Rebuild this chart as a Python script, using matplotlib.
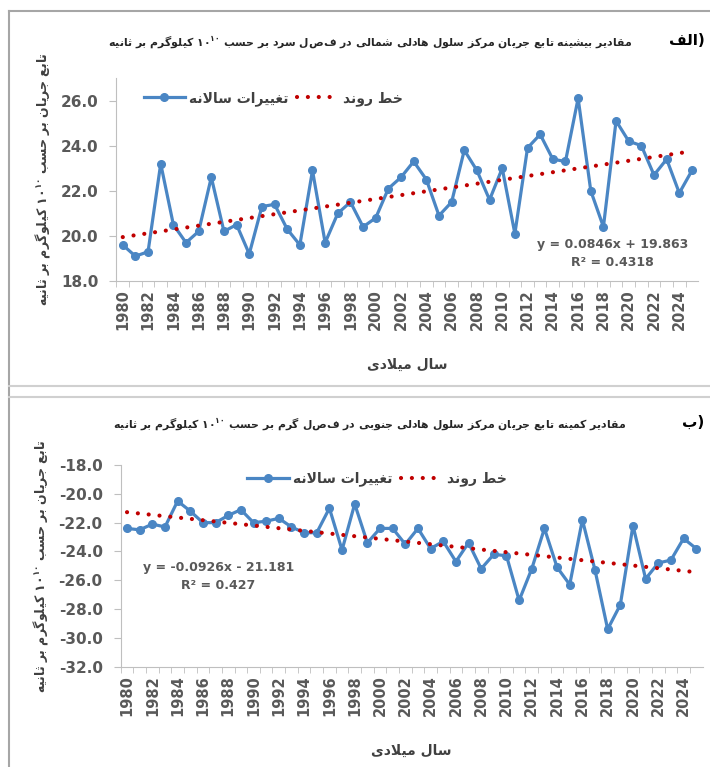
import matplotlib
matplotlib.use("Agg")
import matplotlib.pyplot as plt
from matplotlib.lines import Line2D

plt.rcParams["font.family"] = ["DejaVu Sans"]
plt.rcParams["mathtext.default"] = "bf"

years = list(range(1980, 2026))
north_max = [19.6, 19.1, 19.3, 23.2, 20.5, 19.7, 20.2, 22.6, 20.2, 20.5,
             19.2, 21.3, 21.4, 20.3, 19.6, 22.9, 19.7, 21.0, 21.5, 20.4,
             20.8, 22.1, 22.6, 23.3, 22.5, 20.9, 21.5, 23.8, 22.9, 21.6,
             23.0, 20.1, 23.9, 24.5, 23.4, 23.3, 26.1, 22.0, 20.4, 25.1,
             24.2, 24.0, 22.7, 23.4, 21.9, 22.9]
south_min = [-22.4, -22.5, -22.1, -22.3, -20.5, -21.2, -22.0, -22.0, -21.5, -21.1,
             -22.0, -21.9, -21.7, -22.3, -22.7, -22.7, -21.0, -23.9, -20.7, -23.4,
             -22.4, -22.4, -23.5, -22.4, -23.8, -23.3, -24.7, -23.4, -25.2, -24.2,
             -24.3, -27.4, -25.2, -22.4, -25.1, -26.3, -21.8, -25.3, -29.4, -27.7,
             -22.2, -25.9, -24.8, -24.6, -23.1, -23.8]
# trend equations as printed on the chart (x = 1, 2, ...)
north_trend = (0.0846, 19.863, "0.4318")
south_trend = (-0.0926, -21.181, "0.427")
north_ticks = [18, 20, 22, 24, 26]
south_ticks = [-18, -20, -22, -24, -26, -28, -30, -32]


def _f(base, n=4):
    return [chr(base + i) for i in range(n)]


# arabic presentation forms: isolated, final, initial, medial
FORMS = {
    "\u0627": _f(0xFE8D, 2), "\u0628": _f(0xFE8F), "\u062A": _f(0xFE95),
    "\u062B": _f(0xFE99), "\u062C": _f(0xFE9D), "\u062D": _f(0xFEA1),
    "\u062E": _f(0xFEA5), "\u062F": _f(0xFEA9, 2), "\u0631": _f(0xFEAD, 2),
    "\u0632": _f(0xFEAF, 2), "\u0633": _f(0xFEB1), "\u0634": _f(0xFEB5),
    "\u0637": _f(0xFEC1), "\u0639": _f(0xFEC9), "\u063A": _f(0xFECD),
    "\u0641": _f(0xFED1), "\u0642": _f(0xFED5), "\u0644": _f(0xFEDD),
    "\u0645": _f(0xFEE1), "\u0646": _f(0xFEE5), "\u0647": _f(0xFEE9),
    "\u0648": _f(0xFEED, 2), "\u06CC": _f(0xFBFC), "\u06A9": _f(0xFB8E),
    "\u06AF": _f(0xFB92),
}


def fa(text):
    out = []
    i = 0
    n = len(text)
    while i < n:
        c = text[i]
        if c not in FORMS:
            out.append(c)
            i += 1
            continue
        prev = text[i - 1] if i > 0 else ""
        jp = prev in FORMS and len(FORMS[prev]) == 4
        if c == "\u0644" and i + 1 < n and text[i + 1] == "\u0627":
            out.append("\uFEFC" if jp else "\uFEFB")
            i += 2
            continue
        nxt = text[i + 1] if i + 1 < n else ""
        jn = len(FORMS[c]) == 4 and nxt in FORMS
        f = FORMS[c]
        if jp and jn:
            out.append(f[3])
        elif jp:
            out.append(f[1])
        elif jn:
            out.append(f[2])
        else:
            out.append(f[0])
        i += 1
    return "".join(reversed(out))


power = "۱۰$^{۱۰}$"
unit = fa("کیلوگرم بر ثانیه") + " " + power + " "
title_a = unit + fa("مقادیر بیشینه تابع جریان مرکز سلول هادلی شمالی در فصل سرد بر حسب")
title_b = unit + fa("مقادیر کمینه تابع جریان مرکز سلول هادلی جنوبی در فصل گرم بر حسب")
ylabel = unit + fa("تابع جریان بر حسب")
xlabel = fa("سال میلادی")
leg_annual = fa("تغییرات سالانه")
leg_trend = fa("خط روند")

blue = "#4a86c4"
red = "#c00000"
gray = "#595959"
axis_gray = "#bfbfbf"
dots = (0, (0.01, 2.6))

fig = plt.figure(figsize=(7.1, 7.67), dpi=100)

panels = [
    dict(data=north_max, trend=north_trend, ticks=north_ticks, ylim=(18, 27),
         rect=[0.164, 0.6336, 0.8195, 0.2647], title=title_a, tag=fa("الف") + ")",
         title_y=0.945, leg=(0.385, 0.872), eq=(0.852, 0.135)),
    dict(data=south_min, trend=south_trend, ticks=south_ticks, ylim=(-32, -18),
         rect=[0.170, 0.1308, 0.8195, 0.2629], title=title_b, tag=fa("ب") + ")",
         title_y=0.447, leg=(0.531, 0.3755), eq=(0.168, 0.445)),
]

for p in panels:
    ax = fig.add_axes(p["rect"])
    slope, icept, r2 = p["trend"]
    trend = [slope * (k + 1) + icept for k in range(len(years))]
    ax.plot(years, p["data"], color=blue, lw=2.3, marker="o", ms=5.5, zorder=3)
    ax.plot(years, trend, color=red, lw=3.0, linestyle=dots,
            dash_capstyle="round", zorder=4)
    ax.set_xlim(1979.5, 2025.5)
    ax.set_ylim(*p["ylim"])
    ax.set_yticks(p["ticks"])
    ax.set_yticklabels([f"{v:.1f}" for v in p["ticks"]], fontsize=11, fontweight="bold", color=gray)
    ax.set_xticks(list(range(1980, 2025, 2)))
    ax.set_xticklabels([str(y) for y in range(1980, 2025, 2)], rotation=90,
                       fontsize=10.5, fontweight="bold", color=gray)
    ax.set_xticks([y + 0.5 for y in range(1979, 2025)], minor=True)
    ax.tick_params(axis="x", which="major", length=0, pad=6)
    ax.tick_params(axis="x", which="minor", length=4, color=axis_gray)
    ax.tick_params(axis="y", length=5, color=axis_gray, pad=8)
    for s in ["top", "right"]:
        ax.spines[s].set_visible(False)
    for s in ["left", "bottom"]:
        ax.spines[s].set_color(axis_gray)
    ax.set_xlabel(xlabel, fontsize=10, fontweight="bold", color="#404040", labelpad=20)
    ax.set_ylabel(ylabel, fontsize=9, fontweight="bold", color="#404040", labelpad=6)

    sign = "+" if icept >= 0 else "-"
    eq = f"y = {slope:.4f}x {sign} {abs(icept):.3f}\nR² = {r2}"
    ax.text(p["eq"][0], p["eq"][1], eq, transform=ax.transAxes, ha="center", va="center",
            fontsize=9, fontweight="bold", color=gray, linespacing=1.5)

    handles = [Line2D([], [], color=blue, lw=2.3, marker="o", ms=5.5),
               Line2D([], [], color=red, lw=3.0, linestyle=dots,
                      dash_capstyle="round")]
    fig.legend(handles, [leg_annual, leg_trend], loc="center", ncol=2,
               bbox_to_anchor=p["leg"], frameon=False, handlelength=3.0,
               columnspacing=0.6, handletextpad=0.3,
               prop=dict(weight="bold", size=10), labelcolor="#404040")

    fig.text(0.521, p["title_y"], p["title"], ha="center", va="center",
             fontsize=7.8, fontweight="bold", color="#262626")
    fig.text(0.992, p["title_y"] + 0.002, p["tag"], ha="right", va="center",
             fontsize=11, fontweight="bold", color="#000000")

# panel frames
frame = "#a6a6a6"
fig.add_artist(Line2D([0.0127, 0.0127], [0, 0.986], color=frame, lw=1.5))
fig.add_artist(Line2D([0.0127, 1], [0.986, 0.986], color=frame, lw=1.5))
fig.add_artist(Line2D([0.0127, 1], [0.497, 0.497], color="#d0d0d0", lw=1.5))
fig.add_artist(Line2D([0.0127, 1], [0.483, 0.483], color="#d0d0d0", lw=1.5))

fig.savefig("out.png", dpi=100)
